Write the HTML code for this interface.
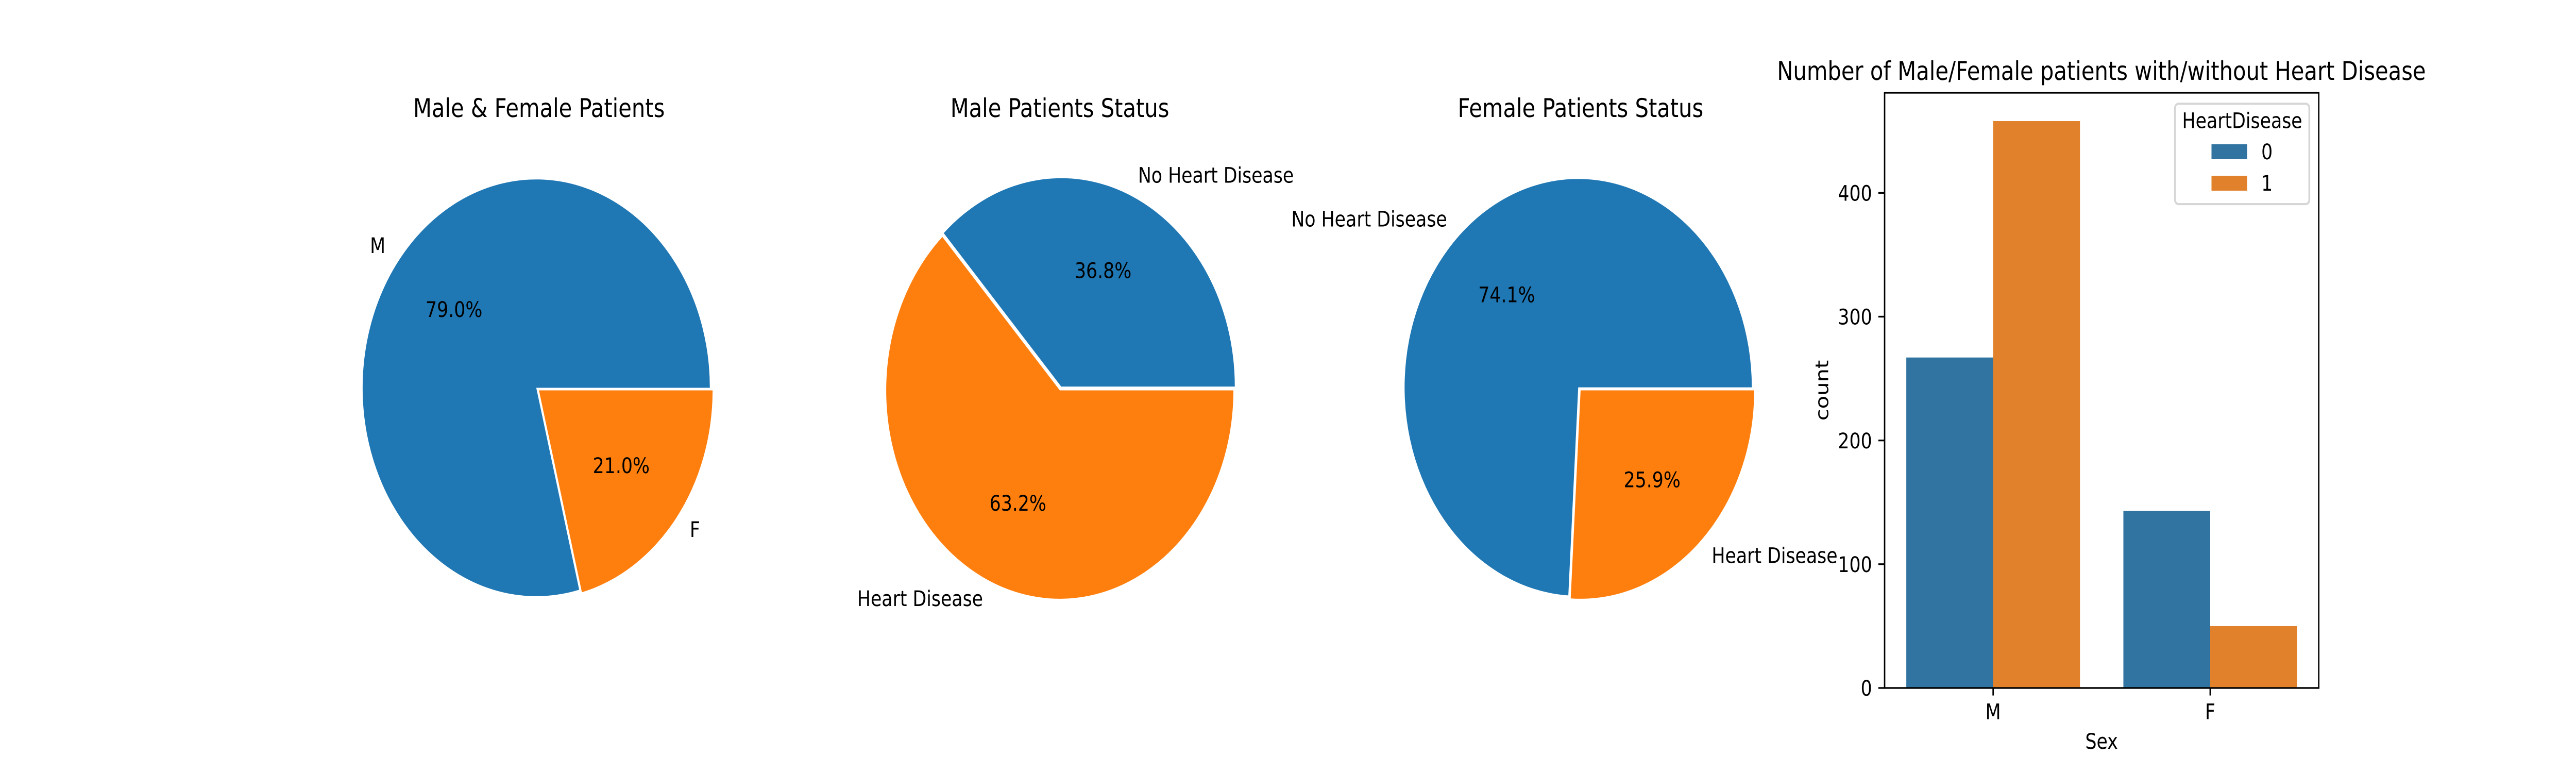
<!DOCTYPE html>
<html lang="en">
<head>
<meta charset="utf-8">
<title>Heart Disease Patients</title>
<style>
  html, body { margin: 0; padding: 0; background: #fff; width: 100%; height: 100%; overflow: hidden; }
  svg { display: block; position: absolute; left: 0; top: 0; width: 100vw; height: 100vh; }
  text { font-family: "DejaVu Sans", "Liberation Sans", sans-serif; fill: #000; text-rendering: geometricPrecision; }
  .t12 { font-size: 50px; }
  .t10 { font-size: 41.667px; }
</style>
</head>
<body>
<svg id="figure" xmlns="http://www.w3.org/2000/svg" viewBox="0 0 6000 1500" preserveAspectRatio="none">
  <rect x="0" y="0" width="6000" height="1500" fill="#ffffff"/>
  <g id="pie-sex"></g>
  <g id="pie-male"></g>
  <g id="pie-female"></g>
  <g id="bars"></g>
  <text class="t12" x="1255.4" y="227" text-anchor="middle">Male &amp; Female Patients</text>
  <text class="t12" x="2468.5" y="227" text-anchor="middle">Male Patients Status</text>
  <text class="t12" x="3681.5" y="227" text-anchor="middle">Female Patients Status</text>
  <text class="t12" x="4894.7" y="155" text-anchor="middle">Number of Male/Female patients with/without Heart Disease</text>
  <text class="t10" x="4895" y="1453" text-anchor="middle">Sex</text>
  <text class="t10" transform="translate(4258 757.5) rotate(-90)" text-anchor="middle">count</text>
</svg>
<script>
// ---- Data ----
const sexLabels = ['M', 'F'];
const sexCounts = [725, 193];
const statusLabels = ['No Heart Disease', 'Heart Disease'];
const maleCounts = [267, 458];
const femaleCounts = [143, 50];
const barCategories = ['M', 'F'];
const noDiseaseCounts = [267, 143];
const diseaseCounts = [458, 50];
const yTickValues = [0, 100, 200, 300, 400];
const legendLabels = ['0', '1'];

// ---- Helpers ----
const NS = 'http://www.w3.org/2000/svg';
function mk(parent, tag, props, content) {
  const el = document.createElementNS(NS, tag);
  Object.keys(props).forEach(function (k) { el.setAttribute(k, props[k]); });
  if (content !== undefined) el.textContent = content;
  parent.appendChild(el);
  return el;
}

// ---- Pies ----
const PIE_R = 404.35;
const PIE_CY = 757.5;
const PIE_EXPLODE = [0.02, 0];
const PIE_COLORS = ['#1f77b4', '#ff7f0e'];
const PCT_DIST = 0.6;
const LABEL_DIST = 1.1;
const FONT_PX = 41.667;

function drawPie(group, cx, values, labels, slug) {
  const total = values.reduce(function (a, b) { return a + b; }, 0);
  let start = 0;
  const texts = [];
  values.forEach(function (v, i) {
    const frac = v / total;
    const a0 = start * 2 * Math.PI;
    const a1 = (start + frac) * 2 * Math.PI;
    const mid = (a0 + a1) / 2;
    const off = PIE_EXPLODE[i] * PIE_R;
    const ox = cx + off * Math.cos(mid);
    const oy = PIE_CY - off * Math.sin(mid);
    const x0 = ox + PIE_R * Math.cos(a0);
    const y0 = oy - PIE_R * Math.sin(a0);
    const x1 = ox + PIE_R * Math.cos(a1);
    const y1 = oy - PIE_R * Math.sin(a1);
    const large = frac > 0.5 ? 1 : 0;
    const d = 'M' + ox + ' ' + oy + 'L' + x0 + ' ' + y0 + 'A' + PIE_R + ' ' + PIE_R + ' 0 ' + large + ' 0 ' + x1 + ' ' + y1 + 'Z';
    const wedge = mk(group, 'path', { d: d, fill: PIE_COLORS[i] });
    
    
    texts.push({ i: i, frac: frac, mid: mid, ox: ox, oy: oy });
    start += frac;
  });
  texts.forEach(function (t) {
    const lx = t.ox + LABEL_DIST * PIE_R * Math.cos(t.mid);
    const ly = t.oy - LABEL_DIST * PIE_R * Math.sin(t.mid) + 0.275 * FONT_PX;
    const label = mk(group, 'text', { x: lx, y: ly, class: 't10', 'text-anchor': Math.cos(t.mid) > 0 ? 'start' : 'end' }, labels[t.i]);
    
    
    const px = t.ox + PCT_DIST * PIE_R * Math.cos(t.mid);
    const py = t.oy - PCT_DIST * PIE_R * Math.sin(t.mid) + 0.275 * FONT_PX;
    const pct = mk(group, 'text', { x: px, y: py, class: 't10', 'text-anchor': 'middle' }, (t.frac * 100).toFixed(1) + '%');
    
    
  });
}

drawPie(document.getElementById('pie-sex'), 1255.4, sexCounts, sexLabels, 'sex-pie');
drawPie(document.getElementById('pie-male'), 2468.5, maleCounts, statusLabels, 'male-pie');
drawPie(document.getElementById('pie-female'), 3681.5, femaleCounts, statusLabels, 'female-pie');

// ---- Bar chart ----
const AX_LEFT = 4389.6;
const AX_RIGHT = 5400.8;
const AX_TOP = 180;
const AX_BOTTOM = 1335;
const BAR_COLORS = ['#3274a1', '#e1812c'];
const SPINE_W = 3.33;
const TICK_LEN = 14.6;

function yMax() {
  return Math.max.apply(null, noDiseaseCounts.concat(diseaseCounts)) * 1.05;
}
function yScale(v) {
  return AX_BOTTOM - (v / yMax()) * (AX_BOTTOM - AX_TOP);
}
function xScale(v) {
  return AX_LEFT + ((v + 0.5) / barCategories.length) * (AX_RIGHT - AX_LEFT);
}

const barsGroup = document.getElementById('bars');
[noDiseaseCounts, diseaseCounts].forEach(function (series, s) {
  series.forEach(function (v, c) {
    const xL = xScale(c - 0.4 + 0.4 * s);
    const xR = xScale(c + 0.4 * s);
    const bar = mk(barsGroup, 'rect', { x: xL, y: yScale(v), width: xR - xL, height: AX_BOTTOM - yScale(v), fill: BAR_COLORS[s] });
    
    
  });
});

yTickValues.forEach(function (v) {
  const y = yScale(v);
  const tick = mk(barsGroup, 'line', { x1: AX_LEFT - TICK_LEN, x2: AX_LEFT, y1: y, y2: y, stroke: '#000', 'stroke-width': SPINE_W });
  
  
  const lab = mk(barsGroup, 'text', { x: AX_LEFT - 2 * TICK_LEN, y: y + 15.2, class: 't10', 'text-anchor': 'end' }, String(v));
  
  
});

barCategories.forEach(function (name, c) {
  const x = xScale(c);
  const tick = mk(barsGroup, 'line', { x1: x, x2: x, y1: AX_BOTTOM, y2: AX_BOTTOM + TICK_LEN, stroke: '#000', 'stroke-width': SPINE_W });
  
  
  const lab = mk(barsGroup, 'text', { x: x, y: AX_BOTTOM + 2 * TICK_LEN + 31.5, class: 't10', 'text-anchor': 'middle' }, name);
  
  
});

const frame = mk(barsGroup, 'rect', { x: AX_LEFT, y: AX_TOP, width: AX_RIGHT - AX_LEFT, height: AX_BOTTOM - AX_TOP, fill: 'none', stroke: '#000', 'stroke-width': SPINE_W, 'stroke-linejoin': 'miter' });



// ---- Legend ----
const legend = mk(barsGroup, 'g', {});


const legendBox = mk(legend, 'rect', { x: 5066, y: 201.3, width: 312.8, height: 194.8, rx: 8.33, ry: 8.33, fill: '#ffffff', 'fill-opacity': 0.8, stroke: '#cccccc', 'stroke-opacity': 0.8, 'stroke-width': 4.17 });


const legendTitle = mk(legend, 'text', { x: 5222.5, y: 248.7, class: 't10', 'text-anchor': 'middle' }, 'HeartDisease');


legendLabels.forEach(function (name, i) {
  const top = 280 + i * 61;
  const swatch = mk(legend, 'rect', { x: 5151, y: top, width: 83, height: 29, fill: BAR_COLORS[i] });
  
  
  const lab = mk(legend, 'text', { x: 5267, y: top + 29, class: 't10' }, name);
  
  
});
</script>
</body>
</html>
